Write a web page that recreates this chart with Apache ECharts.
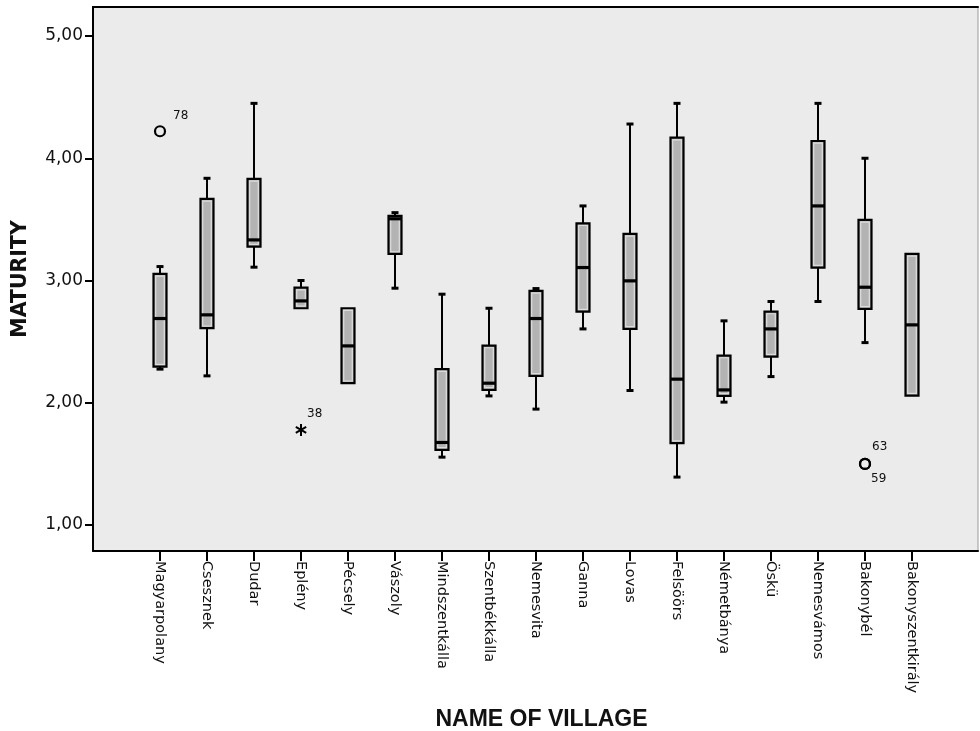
<!DOCTYPE html>
<html>
<head>
<meta charset="utf-8">
<script src="https://cdn.jsdelivr.net/npm/echarts@6/dist/echarts.min.js"></script>
<style>
html,body{margin:0;padding:0;background:#fff;}
#chart{width:980px;height:731px;}
</style>
</head>
<body>
<div id="chart"></div>
<script>
// ---- data ----
const villages = ['Magyarpolany','Csesznek','Dudar','Eplény','Pécsely','Vászoly','Mindszentkálla','Szentbékkálla','Nemesvita','Ganna','Lovas','Felsöörs','Németbánya','Öskü','Nemesvámos','Bakonybél','Bakonyszentkirály'];
const whiskerLow  = [2.275, 2.220, 3.109, 2.773, 2.160, 2.937, 1.555, 2.056, 1.948, 2.604, 2.100, 1.392, 2.005, 2.214, 2.828, 2.492, 2.058];
const q1          = [2.296, 2.610, 3.277, 2.773, 2.160, 3.217, 1.615, 2.105, 2.220, 2.746, 2.604, 1.670, 2.056, 2.378, 3.106, 2.768, 2.058];
const median      = [2.689, 2.719, 3.332, 2.833, 2.465, 3.505, 1.675, 2.160, 2.689, 3.106, 2.997, 2.193, 2.105, 2.604, 3.610, 2.945, 2.637];
const q3          = [3.054, 3.667, 3.831, 2.942, 2.773, 3.528, 2.275, 2.468, 2.915, 3.468, 3.381, 4.169, 2.386, 2.746, 4.141, 3.496, 3.217];
const whiskerHigh = [3.114, 3.836, 4.449, 3.000, 2.773, 3.555, 2.888, 2.773, 2.934, 3.610, 4.280, 4.449, 2.670, 2.828, 4.449, 4.000, 3.217];
const outlierVillages = ['Magyarpolany', 'Bakonybél', 'Bakonybél'];
const outlierValues   = [4.221, 1.500, 1.500];
const outlierCases    = ['78', '63', '59'];
const extremeVillages = ['Eplény'];
const extremeValues   = [1.778];
const extremeCases    = ['38'];
const yMin = 1, yMax = 5, yInterval = 1;

// ---- chart ----
const chart = echarts.init(document.getElementById('chart'), null, {renderer: 'canvas'});
const boxData = villages.map((v, i) => [i, whiskerLow[i], q1[i], median[i], q3[i], whiskerHigh[i]]);
const outData = outlierVillages.map((v, i) => [villages.indexOf(v), outlierValues[i]]);
const extData = extremeVillages.map((v, i) => [villages.indexOf(v), extremeValues[i]]);

function line(x1, y1, x2, y2, w) {
  return {type: 'line', shape: {x1, y1, x2, y2}, style: {stroke: '#000', lineWidth: w}};
}
function label(txt, x, y) {
  return {type: 'text', style: {text: txt, x, y, fill: '#111', font: '12px "DejaVu Sans"',
    textAlign: 'left', textVerticalAlign: 'middle', align: 'left', verticalAlign: 'middle'}};
}

function renderBox(params, api) {
  const i = api.value(0);
  const pLo = api.coord([i, api.value(1)]);
  const pQ1 = api.coord([i, api.value(2)]);
  const pMd = api.coord([i, api.value(3)]);
  const pQ3 = api.coord([i, api.value(4)]);
  const pHi = api.coord([i, api.value(5)]);
  const x = pLo[0];
  const hw = 6.5, cw = 3.5;
  const ch = [];
  if (pHi[1] < pQ3[1] - 0.5) {
    ch.push(line(x, pHi[1], x, pQ3[1], 2));
    ch.push(line(x - cw, pHi[1], x + cw, pHi[1], 3));
  }
  if (pLo[1] > pQ1[1] + 0.5) {
    ch.push(line(x, pQ1[1], x, pLo[1], 2));
    ch.push(line(x - cw, pLo[1], x + cw, pLo[1], 3));
  }
  const h = pQ1[1] - pQ3[1];
  ch.push({type: 'rect', shape: {x: x - hw, y: pQ3[1], width: hw * 2, height: h},
    style: {fill: '#b3b3b3', stroke: '#000', lineWidth: 2.2}});
  if (h > 6) {
    ch.push({type: 'rect', shape: {x: x - hw + 2.2, y: pQ3[1] + 2.2, width: hw * 2 - 4.4, height: h - 4.4},
      style: {fill: 'none', stroke: '#dcdcdc', lineWidth: 1.2}});
  }
  ch.push(line(x - hw, pMd[1], x + hw, pMd[1], 3.2));
  return {type: 'group', children: ch};
}

function renderOutlier(params, api) {
  const p = api.coord([api.value(0), api.value(1)]);
  const idx = params.dataIndex;
  const ch = [{type: 'circle', shape: {cx: p[0], cy: p[1], r: 5}, style: {fill: 'none', stroke: '#000', lineWidth: 2.2}}];
  const dup = outlierVillages.slice(0, idx).some((v, k) => v === outlierVillages[idx] && outlierValues[k] === outlierValues[idx]);
  const hasDup = outlierVillages.some((v, k) => k !== idx && v === outlierVillages[idx] && outlierValues[k] === outlierValues[idx]);
  if (!hasDup) ch.push(label(outlierCases[idx], p[0] + 13, p[1] - 15));
  else if (!dup) ch.push(label(outlierCases[idx], p[0] + 7, p[1] - 17));
  else ch.push(label(outlierCases[idx], p[0] + 6, p[1] + 15));
  return {type: 'group', children: ch};
}

function renderExtreme(params, api) {
  const p = api.coord([api.value(0), api.value(1)]);
  const idx = params.dataIndex;
  const r = 6, ch = [];
  [90, 30, -30].forEach(a => {
    const rad = a * Math.PI / 180;
    const dx = r * Math.cos(rad), dy = r * Math.sin(rad);
    ch.push(line(p[0] - dx, p[1] - dy, p[0] + dx, p[1] + dy, 2));
  });
  ch.push(label(extremeCases[idx], p[0] + 6, p[1] - 16));
  return {type: 'group', children: ch};
}

const option = {
  animation: false,
  backgroundColor: '#ffffff',
  grid: [
    {left: 93, top: 7, width: 885, height: 544, show: true, backgroundColor: '#ebebeb', borderColor: '#9a9a9a', borderWidth: 1,
      containLabel: false, outerBoundsMode: 'none'},
    {left: 136.5, top: 36, width: 799, height: 489, containLabel: false, outerBoundsMode: 'none'}
  ],
  xAxis: [
    {gridIndex: 0, type: 'value', min: 0, max: 1, position: 'bottom',
      axisLine: {show: true, lineStyle: {color: '#000', width: 2}}, axisTick: {show: false}, axisLabel: {show: false}, splitLine: {show: false}},
    {gridIndex: 0, type: 'value', min: 0, max: 1, position: 'top',
      axisLine: {show: true, lineStyle: {color: '#000', width: 2}}, axisTick: {show: false}, axisLabel: {show: false}, splitLine: {show: false}},
    {gridIndex: 1, type: 'category', data: villages, position: 'bottom', offset: 26, boundaryGap: true,
      axisLine: {show: false},
      axisTick: {show: true, alignWithLabel: true, length: 10, lineStyle: {color: '#000', width: 2}},
      axisLabel: {rotate: -90, margin: 10, interval: 0, fontFamily: 'DejaVu Sans', fontSize: 14.5, color: '#111'},
      splitLine: {show: false},
      name: 'NAME OF VILLAGE', nameLocation: 'middle', nameGap: 157,
      nameTextStyle: {fontFamily: 'Liberation Sans', fontWeight: 'bold', fontSize: 23, color: '#111', padding: [0, 0, 0, 11]}}
  ],
  yAxis: [
    {gridIndex: 0, type: 'value', min: 0, max: 1,
      axisLine: {show: true, lineStyle: {color: '#000', width: 2}}, axisTick: {show: false}, axisLabel: {show: false}, splitLine: {show: false},
      name: 'MATURITY', nameLocation: 'middle', nameGap: 62, nameRotate: 90,
      nameTextStyle: {fontFamily: 'DejaVu Sans', fontWeight: 'bold', fontSize: 20.5, color: '#111'}},
    {gridIndex: 1, type: 'value', min: yMin, max: yMax, interval: yInterval, offset: 43.5,
      axisLine: {show: false},
      axisTick: {show: true, length: 8, lineStyle: {color: '#000', width: 2}},
      axisLabel: {margin: 10, fontFamily: 'DejaVu Sans', fontSize: 17, color: '#111',
        formatter: v => v.toFixed(2).replace('.', ',')},
      splitLine: {show: false}}
  ],
  series: [
    {type: 'custom', xAxisIndex: 2, yAxisIndex: 1, data: boxData, renderItem: renderBox,
      encode: {x: 0, y: [1, 2, 3, 4, 5]}, clip: false, silent: true},
    {type: 'custom', xAxisIndex: 2, yAxisIndex: 1, data: outData, renderItem: renderOutlier,
      encode: {x: 0, y: 1}, clip: false, silent: true},
    {type: 'custom', xAxisIndex: 2, yAxisIndex: 1, data: extData, renderItem: renderExtreme,
      encode: {x: 0, y: 1}, clip: false, silent: true}
  ]
};
chart.setOption(option);
</script>
</body>
</html>
